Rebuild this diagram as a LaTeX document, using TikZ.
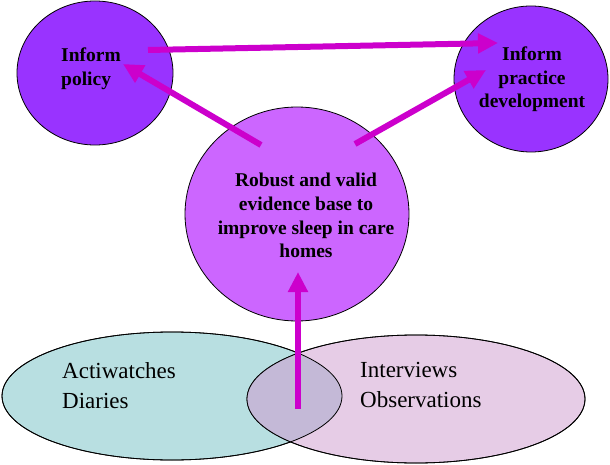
\documentclass[tikz,border=0pt]{standalone}
\usepackage{fontspec}
\setmainfont{Liberation Serif}
\usetikzlibrary{shapes.geometric,arrows.meta}

\definecolor{outcomefill}{HTML}{9933FF}
\definecolor{evidencefill}{HTML}{CC66FF}
\definecolor{quantfill}{HTML}{B8DFE1}
\definecolor{qualfill}{HTML}{E6CCE6}
\definecolor{mixfill}{HTML}{C4B9D7}
\definecolor{linkcol}{HTML}{CC00CC}

\tikzset{
  blob/.style={ellipse, draw=black, line width=0.8pt, inner sep=0pt, outer sep=0pt},
  boldlabel/.style={font=\bfseries\fontsize{19.5}{23.7}\selectfont, inner sep=0pt},
  methodlabel/.style={font=\fontsize{23}{30}\selectfont, inner sep=0pt, align=left, anchor=west},
  link/.style={draw=linkcol, line width=6pt, -{Triangle[length=20pt,width=19pt]}}
}

\begin{document}
\begin{tikzpicture}[x=1pt,y=-1pt]
\useasboundingbox (0,0) rectangle (610,465);

% data collection methods
\node[blob, fill=quantfill, minimum width=340pt, minimum height=128pt] (quant) at (172,396) {};
\node[blob, fill=qualfill, minimum width=338pt, minimum height=128pt] (qual) at (416,399) {};
\begin{scope}
  \clip (172,396) ellipse [x radius=170, y radius=64];
  \fill[mixfill] (416,399) ellipse [x radius=169, y radius=64];
\end{scope}
\draw[line width=0.8pt] (172,396) ellipse [x radius=170, y radius=64];
\draw[line width=0.8pt] (416,399) ellipse [x radius=169, y radius=64];

% evidence and outcomes
\node[blob, fill=evidencefill, minimum width=224pt, minimum height=214pt] (evidence) at (297,214) {};
\node[blob, fill=outcomefill, minimum width=156pt, minimum height=144pt] (policy) at (95,73) {};
\node[blob, fill=outcomefill, minimum width=154pt, minimum height=146pt] (practice) at (531,79) {};

% labels
\node[boldlabel, align=left, anchor=west] (policytxt) at (61,68.5) {Inform\\policy};
\node[boldlabel, align=center] (practicetxt) at (532,79.5) {Inform\\practice\\development};
\node[boldlabel, align=center] (evidencetxt) at (306,215.7) {Robust and valid\\evidence base to\\improve sleep in care\\homes};
\node[methodlabel] (quanttxt) at (62,385.4) {Actiwatches\\Diaries};
\node[methodlabel] (qualtxt) at (360,384.9) {Interviews\\Observations};

% connector end points
\coordinate (policyout) at (148,50);
\coordinate (practicein) at (498,43);
\coordinate (evidenceleft) at (261,145);
\coordinate (policyin) at (123,64);
\coordinate (evidenceright) at (355,144);
\coordinate (practicein2) at (486,70);
\coordinate (methodsout) at (298,409);
\coordinate (evidencein) at (298,272);

\draw[link] (policyout) -- (practicein);
\draw[link] (evidenceleft) -- (policyin);
\draw[link] (evidenceright) -- (practicein2);
\draw[link] (methodsout) -- (evidencein);
\end{tikzpicture}
\end{document}
